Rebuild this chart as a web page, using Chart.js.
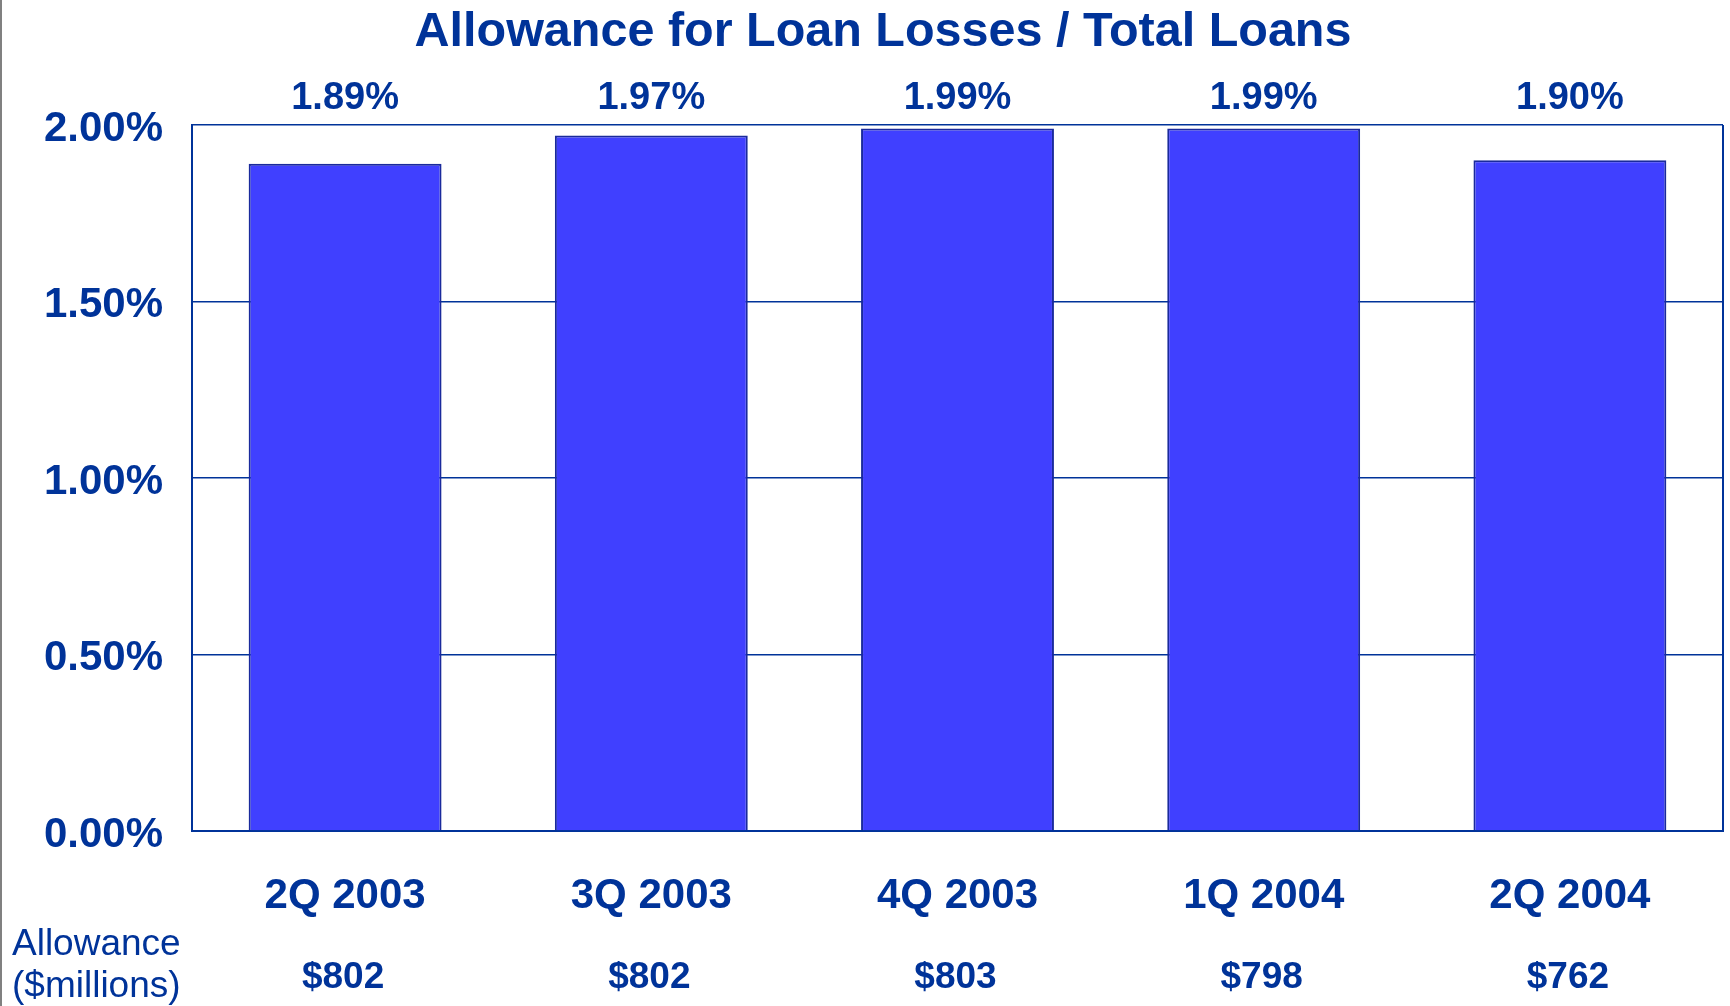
<!DOCTYPE html>
<html>
<head>
<meta charset="utf-8">
<script src="https://cdn.jsdelivr.net/npm/chart.js@4/dist/chart.umd.min.js"></script>
<style>
    html, body { margin: 0; padding: 0; background: #ffffff; }
    canvas { display: block; }
</style>
</head>
<body>
<canvas id="lossChart" width="1730" height="1006"></canvas>
<script>
// values
const quarters = ['2Q 2003', '3Q 2003', '4Q 2003', '1Q 2004', '2Q 2004'];
const ratioPct = [1.89, 1.97, 1.99, 1.99, 1.90];
const allowanceMillions = [802, 802, 803, 798, 762];

const navy = '#003399';
const barBlue = '#4040ff';
const fontFamily = '"Liberation Sans", Arial, sans-serif';

// title, labels above bars, allowance row and the plot frame
const slideText = {
    id: 'slideText',
    beforeDatasetsDraw(chart) {
        const ctx = chart.ctx;
        const area = chart.chartArea;
        ctx.save();
        ctx.strokeStyle = navy;
        ctx.lineWidth = 2;
        ctx.beginPath();
        ctx.moveTo(area.right, area.top);
        ctx.lineTo(area.right, area.bottom);
        ctx.stroke();
        ctx.restore();
    },
    afterDraw(chart) {
        const ctx = chart.ctx;
        const xScale = chart.scales.x;
        ctx.save();

        // thin grey edge on the left of the slide
        ctx.fillStyle = '#808080';
        ctx.fillRect(0, 0, 2, chart.height);

        ctx.fillStyle = navy;
        ctx.textBaseline = 'alphabetic';

        ctx.textAlign = 'center';
        ctx.font = 'bold 48.5px ' + fontFamily;
        ctx.fillText('Allowance for Loan Losses / Total Loans', 883, 46);

        ctx.font = 'bold 38px ' + fontFamily;
        ratioPct.forEach(function(v, i) {
            ctx.fillText(v.toFixed(2) + '%', xScale.getPixelForValue(i), 109);
        });

        ctx.font = 'bold 37px ' + fontFamily;
        allowanceMillions.forEach(function(v, i) {
            ctx.fillText('$' + v, xScale.getPixelForValue(i) - 2, 988);
        });

        ctx.textAlign = 'left';
        ctx.font = '37px ' + fontFamily;
        ctx.fillText('Allowance', 12, 955);
        ctx.fillText('($millions)', 12, 997);

        ctx.restore();
    }
};

const ctx = document.getElementById('lossChart').getContext('2d');

const lossChart = new Chart(ctx, {
    type: 'bar',
    data: {
        labels: quarters,
        datasets: [{
            label: 'Allowance / Total Loans',
            data: ratioPct,
            backgroundColor: barBlue,
            borderColor: '#1a2a9c',
            borderWidth: 2,
            barPercentage: 0.63,
            categoryPercentage: 1.0
        }]
    },
    options: {
        responsive: false,
        animation: false,
        layout: {
            padding: { top: 125, right: 7, left: 0, bottom: 0 }
        },
        plugins: {
            legend: { display: false },
            tooltip: { enabled: false }
        },
        scales: {
            x: {
                grid: { display: false },
                border: { display: true, color: navy, width: 2 },
                ticks: {
                    color: navy,
                    padding: 32,
                    font: { family: fontFamily, size: 42, weight: 'bold' }
                },
                afterFit: function(scale) { scale.height = 175; }
            },
            y: {
                min: 0,
                max: 2,
                grid: { color: navy, lineWidth: 1.5, drawTicks: false },
                border: { display: true, color: navy, width: 2 },
                ticks: {
                    stepSize: 0.5,
                    color: navy,
                    padding: 29,
                    labelOffset: 4,
                    font: { family: fontFamily, size: 42, weight: 'bold' },
                    callback: function(v) { return v.toFixed(2) + '%'; }
                },
                afterFit: function(scale) { scale.width = 192; }
            }
        }
    },
    plugins: [slideText]
});
</script>
</body>
</html>
